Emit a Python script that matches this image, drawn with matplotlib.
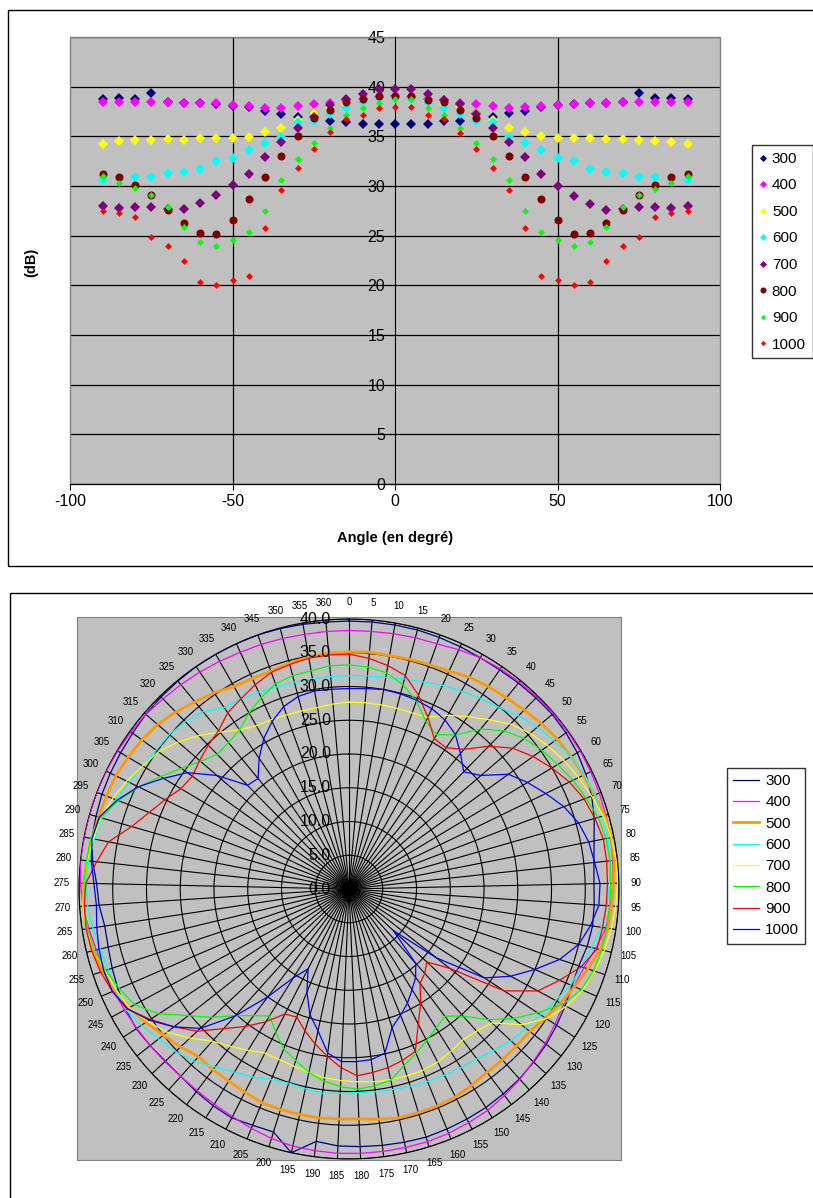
import numpy as np
import matplotlib
matplotlib.use("Agg")
import matplotlib.pyplot as plt
from matplotlib.patches import Rectangle
from matplotlib.lines import Line2D
from matplotlib.transforms import offset_copy

plt.rcParams['font.family'] = ['Liberation Sans', 'DejaVu Sans']
plt.rcParams['axes.unicode_minus'] = False

# ---- top chart: level (dB) against angle, one series per frequency ----
angles = list(range(-90, 95, 5))
series_names = ["300", "400", "500", "600", "700", "800", "900", "1000"]

s300 = [38.8, 38.9, 38.8, 39.4, 38.45, 38.4, 38.35, 38.3, 38.1, 37.95,
        37.5, 37.2, 36.95, 37.3, 36.5, 36.4, 36.2, 36.2, 36.2,
        36.2, 36.2, 36.5, 36.5, 37.3, 36.95, 37.3, 37.5, 38.0, 38.2,
        38.3, 38.35, 38.4, 38.45, 39.4, 38.85, 38.9, 38.8]
s400 = [38.45, 38.5, 38.45, 38.45, 38.45, 38.4, 38.35, 38.35, 38.15, 38.05,
        37.9, 37.9, 38.1, 38.25, 38.4, 38.7, 38.8, 39.0, 39.1,
        39.0, 38.8, 38.7, 38.4, 38.25, 38.1, 37.9, 37.95, 38.05, 38.2,
        38.3, 38.35, 38.35, 38.5, 38.5, 38.5, 38.5, 38.5]
s500 = [34.2, 34.5, 34.6, 34.6, 34.7, 34.65, 34.8, 34.8, 34.8, 34.95,
        35.4, 35.8, 36.6, 37.3, 38.0, 38.3, 38.6, 38.8, 38.9,
        38.8, 38.6, 38.3, 38.0, 37.3, 36.65, 35.8, 35.4, 35.0, 34.85,
        34.85, 34.85, 34.75, 34.7, 34.65, 34.5, 34.45, 34.2]
s600 = [30.65, 30.8, 30.9, 30.95, 31.3, 31.4, 31.7, 32.5, 32.85, 33.65,
        34.35, 34.95, 36.4, 36.55, 37.2, 37.85, 38.5, 38.75, 38.9,
        38.75, 38.5, 37.85, 37.2, 36.55, 36.4, 34.95, 34.35, 33.65, 32.85,
        32.5, 31.7, 31.4, 31.3, 30.95, 30.9, 30.8, 30.65]
s700 = [28.0, 27.8, 27.85, 27.85, 27.7, 27.7, 28.25, 29.05, 30.1, 31.25,
        32.9, 34.45, 35.8, 36.9, 38.15, 38.75, 39.3, 39.75, 39.75,
        39.75, 39.3, 38.7, 38.25, 37.2, 35.8, 34.45, 32.9, 31.25, 30.05,
        29.0, 28.2, 27.6, 27.7, 27.85, 27.85, 27.75, 28.0]
s800 = [31.2, 30.9, 30.15, 29.1, 27.6, 26.25, 25.3, 25.2, 26.6, 28.7,
        30.9, 33.0, 35.0, 36.8, 37.7, 38.5, 38.75, 39.1, 39.1,
        39.1, 38.7, 38.5, 37.65, 36.85, 35.0, 33.0, 30.95, 28.7, 26.6,
        25.2, 25.3, 26.25, 27.6, 29.1, 30.15, 30.9, 31.2]
s900 = [31.0, 30.3, 29.75, 29.07, 27.85, 25.85, 24.4, 24.0, 24.6, 25.35,
        27.45, 30.6, 32.7, 34.35, 35.85, 37.1, 37.85, 38.4, 38.75,
        38.75, 37.85, 37.1, 35.8, 34.35, 32.7, 30.6, 27.45, 25.35, 24.6,
        24.0, 24.4, 25.85, 27.85, 29.1, 29.7, 30.3, 31.0]
s1000 = [27.45, 27.3, 26.9, 24.9, 24.0, 22.45, 20.3, 20.05, 20.5, 20.9,
         25.75, 29.6, 31.8, 33.75, 35.4, 36.7, 37.15, 37.9, 38.0,
         37.95, 37.1, 36.7, 35.35, 33.75, 31.8, 29.6, 25.75, 20.9, 20.5,
         20.05, 20.3, 22.45, 24.0, 24.9, 26.9, 27.3, 27.45]

# ---- bottom chart: radar, categories 0..360 every 5 degrees ----
radar_labels = list(range(0, 365, 5))

r300 = [39.7, 39.7, 39.7, 39.7, 39.6, 39.5, 39.4, 39.4, 39.5, 39.6,
        39.7, 39.6, 39.4, 39.0, 38.5, 37.8, 37.0, 36.5, 36.3, 36.4,
        36.5, 36.3, 35.9, 36.0, 36.4, 36.8, 37.2, 37.5, 37.8, 38.0,
        38.2, 38.3, 38.4, 38.5, 38.4, 38.3, 38.2, 38.1, 37.7, 40.0,
        37.7, 37.8, 38.1, 37.9, 37.6, 37.3, 37.3, 37.5, 37.7, 37.6,
        37.3, 37.0, 36.7, 36.6, 37.1, 37.4, 38.2, 38.8, 39.0, 39.2,
        39.3, 39.4, 39.5, 39.7, 39.8, 39.9, 40.0, 40.0, 40.0, 40.0,
        39.9, 39.8, 39.7]
r400 = [38.3, 38.3, 38.4, 38.5, 38.6, 39.0, 39.4, 39.6, 39.7, 39.8,
        39.9, 39.9, 39.9, 39.8, 39.7, 39.6, 39.5, 39.3, 39.1, 38.8,
        38.5, 37.6, 36.7, 36.3, 36.1, 36.5, 37.0, 37.4, 37.9, 38.3,
        38.7, 38.9, 39.1, 39.2, 39.2, 39.2, 39.2, 39.2, 39.1, 39.0,
        38.7, 38.3, 37.9, 37.6, 37.4, 37.3, 37.4, 37.5, 37.6, 37.8,
        38.0, 38.2, 38.5, 39.0, 39.5, 39.8, 40.0, 40.0, 40.0, 40.0,
        40.0, 39.9, 39.8, 39.7, 39.4, 39.2, 39.0, 38.8, 38.6, 38.5,
        38.4, 38.3, 38.3]
r500 = [35.1, 35.2, 35.1, 35.2, 35.3, 35.5, 36.1, 36.4, 36.7, 37.1,
        37.6, 38.0, 38.3, 38.6, 39.0, 39.4, 39.6, 39.5, 39.2, 39.0,
        38.8, 38.3, 37.3, 36.4, 35.6, 34.8, 34.1, 34.0, 34.0, 34.0,
        34.3, 34.6, 34.7, 34.7, 34.7, 34.4, 34.1, 34.1, 34.2, 34.2,
        34.2, 34.2, 33.8, 33.6, 33.5, 33.4, 34.2, 35.0, 36.0, 37.0,
        37.8, 38.5, 39.0, 39.3, 39.4, 39.3, 39.0, 38.8, 38.6, 38.5,
        38.4, 38.1, 37.8, 37.4, 36.7, 35.9, 35.3, 34.5, 34.3, 34.3,
        34.6, 34.9, 35.1]
r600 = [31.6, 31.7, 31.8, 32.2, 32.6, 33.2, 33.7, 34.3, 34.9, 35.9,
        36.8, 37.5, 38.3, 38.8, 39.0, 39.1, 39.1, 38.9, 38.6, 38.3,
        37.8, 37.0, 36.3, 35.8, 34.8, 33.9, 33.3, 32.9, 32.1, 31.5,
        31.2, 31.0, 30.8, 30.6, 30.4, 30.3, 30.2, 30.3, 30.5, 30.3,
        30.1, 30.5, 31.3, 32.0, 33.0, 34.3, 35.2, 35.9, 36.8, 37.6,
        37.6, 37.6, 37.9, 38.4, 38.8, 38.9, 38.8, 38.4, 38.1, 37.0,
        36.2, 35.6, 35.2, 35.1, 34.7, 34.0, 32.6, 32.4, 32.1, 31.8,
        31.7, 31.6, 31.6]
r700 = [27.7, 27.7, 27.7, 27.7, 27.7, 28.0, 29.6, 31.0, 32.5, 34.2,
        35.4, 36.3, 37.1, 37.8, 38.5, 39.2, 39.6, 39.8, 39.8, 39.6,
        39.3, 38.9, 38.4, 37.7, 36.6, 35.0, 32.5, 29.0, 28.3, 28.0,
        28.4, 28.8, 29.0, 29.0, 28.9, 28.8, 28.6, 28.4, 28.2, 27.8,
        27.5, 27.3, 27.3, 28.2, 29.2, 30.3, 32.3, 34.3, 35.7, 37.0,
        37.6, 38.1, 38.8, 39.4, 39.5, 39.3, 39.0, 38.6, 38.2, 37.5,
        36.6, 35.6, 34.8, 33.4, 31.8, 30.1, 28.6, 27.8, 27.6, 27.4,
        27.3, 27.3, 27.5]
r800 = [33.2, 33.0, 32.5, 31.3, 29.6, 27.3, 26.3, 27.7, 30.7, 32.8,
        34.2, 35.2, 36.0, 36.9, 37.6, 38.4, 38.8, 38.9, 38.8, 38.7,
        38.6, 38.5, 38.2, 37.5, 36.0, 33.4, 31.0, 28.3, 25.3, 23.6,
        24.3, 25.2, 26.3, 27.4, 29.0, 29.4, 29.7, 29.3, 28.7, 27.8,
        26.6, 25.6, 23.8, 22.2, 23.5, 25.2, 27.8, 30.3, 33.7, 36.1,
        37.1, 38.0, 38.8, 39.2, 39.3, 39.3, 39.1, 39.0, 38.3, 36.6,
        34.6, 32.5, 30.6, 29.0, 27.9, 28.1, 28.6, 30.0, 31.2, 32.3,
        32.7, 32.8, 33.2]
r900 = [34.8, 34.3, 33.6, 32.7, 30.5, 28.0, 25.6, 25.4, 26.8, 29.6,
        32.0, 33.6, 35.0, 36.3, 37.3, 37.9, 38.4, 38.4, 38.3, 38.2,
        38.0, 37.8, 36.3, 34.0, 31.8, 27.5, 19.0, 15.8, 16.8, 17.5,
        20.0, 22.5, 26.0, 26.6, 27.1, 27.4, 27.7, 26.5, 25.0, 23.5,
        22.0, 20.5, 20.8, 23.2, 25.5, 27.8, 30.8, 33.0, 35.2, 37.4,
        38.2, 38.8, 39.2, 39.4, 39.3, 39.0, 37.6, 36.3, 33.5, 31.7,
        30.3, 29.0, 28.6, 29.2, 29.8, 30.4, 31.7, 32.4, 33.3, 34.1,
        34.4, 34.7, 34.8]
r1000 = [29.7, 29.8, 30.0, 29.9, 29.7, 29.4, 28.8, 27.8, 26.0, 24.3,
         25.8, 29.1, 30.8, 32.4, 34.1, 35.4, 36.2, 36.6, 37.2, 37.1,
         36.2, 35.0, 32.9, 30.0, 27.2, 24.0, 16.5, 9.0, 14.8, 16.4,
         17.6, 19.0, 20.2, 21.5, 24.9, 25.5, 25.6, 25.6, 24.5, 21.5,
         19.5, 16.5, 13.3, 15.5, 20.0, 25.3, 30.2, 33.0, 35.4, 37.3,
         38.2, 38.3, 38.1, 37.8, 37.5, 37.8, 38.4, 38.8, 38.5, 36.8,
         34.7, 32.0, 29.5, 25.8, 21.5, 21.2, 23.5, 25.6, 27.3, 28.7,
         29.5, 29.8, 29.7]

top_series = [s300, s400, s500, s600, s700, s800, s900, s1000]
radar_series = [r300, r400, r500, r600, r700, r800, r900, r1000]

# styles
top_colors = ["#000080", "#FF00FF", "#FFFF00", "#00FFFF", "#800080", "#800000", "#00FF00", "#FF0000"]
top_markers = ["D", "D", "D", "D", "D", "o", "D", "D"]
top_sizes = [4.8, 4.8, 4.8, 4.8, 4.8, 5.8, 3.5, 3.5]
radar_colors = ["#000080", "#FF00FF", "#FF9900", "#00FFFF", "#FFFF00", "#00FF00", "#FF0000", "#0000FF"]
radar_widths = [0.9, 0.9, 2.0, 0.9, 0.9, 0.9, 0.9, 0.9]

W, H = 813, 1198
fig = plt.figure(figsize=(W / 100, H / 100), dpi=100)


def fx(px):
    return px / W


def fy(py):
    return 1 - py / H


# chart borders (both run past the right / bottom edge of the picture)
fig.add_artist(Rectangle((fx(8), fy(566)), 1.0, (566 - 10) / H, transform=fig.transFigure,
                         fill=False, edgecolor="black", lw=1.0))
fig.add_artist(Rectangle((fx(10), -0.1), 1.0, fy(593) + 0.1, transform=fig.transFigure,
                         fill=False, edgecolor="black", lw=1.0))

# ---------------- top scatter chart ----------------
ax = fig.add_axes([fx(70), fy(484), (720 - 70) / W, (484 - 37) / H])
ax.set_facecolor("#C0C0C0")
for name, vals, c, m, s in zip(series_names, top_series, top_colors, top_markers, top_sizes):
    ax.plot(angles, vals, linestyle="none", marker=m, color=c, markersize=s,
            markeredgewidth=0, label=name, zorder=3)

ax.set_xlim(-100, 100)
ax.set_ylim(0, 45)
ax.set_xticks(range(-100, 101, 50))
ax.set_yticks(range(0, 50, 5))
ax.grid(axis="y", color="black", lw=0.9)
for xv in (-50, 50):
    ax.axvline(xv, color="black", lw=0.9, zorder=1)
ax.set_axisbelow(True)

ax.spines["left"].set_position(("data", 0))
ax.spines["left"].set_color("black")
ax.spines["bottom"].set_color("black")
ax.spines["top"].set_visible(False)
ax.spines["right"].set_visible(False)
ax.add_patch(Rectangle((0, 0), 1, 1, transform=ax.transAxes, fill=False,
                       edgecolor="#808080", lw=1.0, zorder=2, clip_on=False))
ax.tick_params(axis="both", direction="out", length=4, labelsize=11.5, pad=3)
ax.set_xlabel("Angle (en degré)", fontsize=10.5, fontweight="bold", labelpad=16)
fig.text(fx(31), fy(262), "(dB)", rotation=90, fontsize=10.5, fontweight="bold",
         ha="center", va="center")

leg1 = ax.legend(loc="upper left", bbox_to_anchor=(fx(752), fy(145)),
                 bbox_transform=fig.transFigure, fontsize=11, frameon=True,
                 fancybox=False, edgecolor="black", handlelength=0.6,
                 handletextpad=0.25, labelspacing=0.82, borderpad=0.45,
                 borderaxespad=0, markerscale=0.75)
leg1.get_frame().set_linewidth(1.0)

# ---------------- bottom radar chart ----------------
bg = fig.add_axes([fx(77), fy(1160), (621 - 77) / W, (1160 - 617) / H])
bg.set_facecolor("#C0C0C0")
bg.set_xticks([])
bg.set_yticks([])
for sp in bg.spines.values():
    sp.set_color("#808080")

R = 270
pax = fig.add_axes([fx(349 - R), fy(889 + R), 2 * R / W, 2 * R / H], projection="polar")
pax.set_facecolor("none")
pax.set_theta_zero_location("N")
pax.set_theta_direction(-1)
pax.set_ylim(0, 40)

theta = np.arange(len(radar_labels)) * 2 * np.pi / len(radar_labels)
theta_closed = np.append(theta, theta[0])
for name, vals, c, lw in zip(series_names, radar_series, radar_colors, radar_widths):
    pax.plot(theta_closed, vals + vals[:1], color=c, lw=lw, label=name, zorder=3)

pax.set_thetagrids(np.degrees(theta), labels=[str(v) for v in radar_labels], fontsize=7)
pax.tick_params(axis="x", pad=2)
pax.set_rgrids(range(5, 41, 5), labels=[])
pax.grid(True, color="black", lw=0.8)
pax.spines["polar"].set_color("black")
pax.spines["polar"].set_linewidth(0.8)

# radial value labels next to the 0 degree spoke
lab_tr = offset_copy(pax.transData, fig=fig, x=-18, y=0, units="dots")
for rv in range(0, 41, 5):
    pax.text(0, rv, "%.1f" % rv, transform=lab_tr, ha="right", va="center",
             fontsize=11.5, zorder=4)

handles = [Line2D([0], [0], color=c, lw=lw) for c, lw in zip(radar_colors, radar_widths)]
leg2 = fig.legend(handles, series_names, loc="upper left",
                  bbox_to_anchor=(fx(727), fy(768)), fontsize=11, frameon=True,
                  fancybox=False, edgecolor="black", handlelength=1.7,
                  handletextpad=0.4, labelspacing=0.48, borderpad=0.4,
                  borderaxespad=0)
leg2.get_frame().set_linewidth(1.0)

fig.savefig("out.png", dpi=100, facecolor="white")
